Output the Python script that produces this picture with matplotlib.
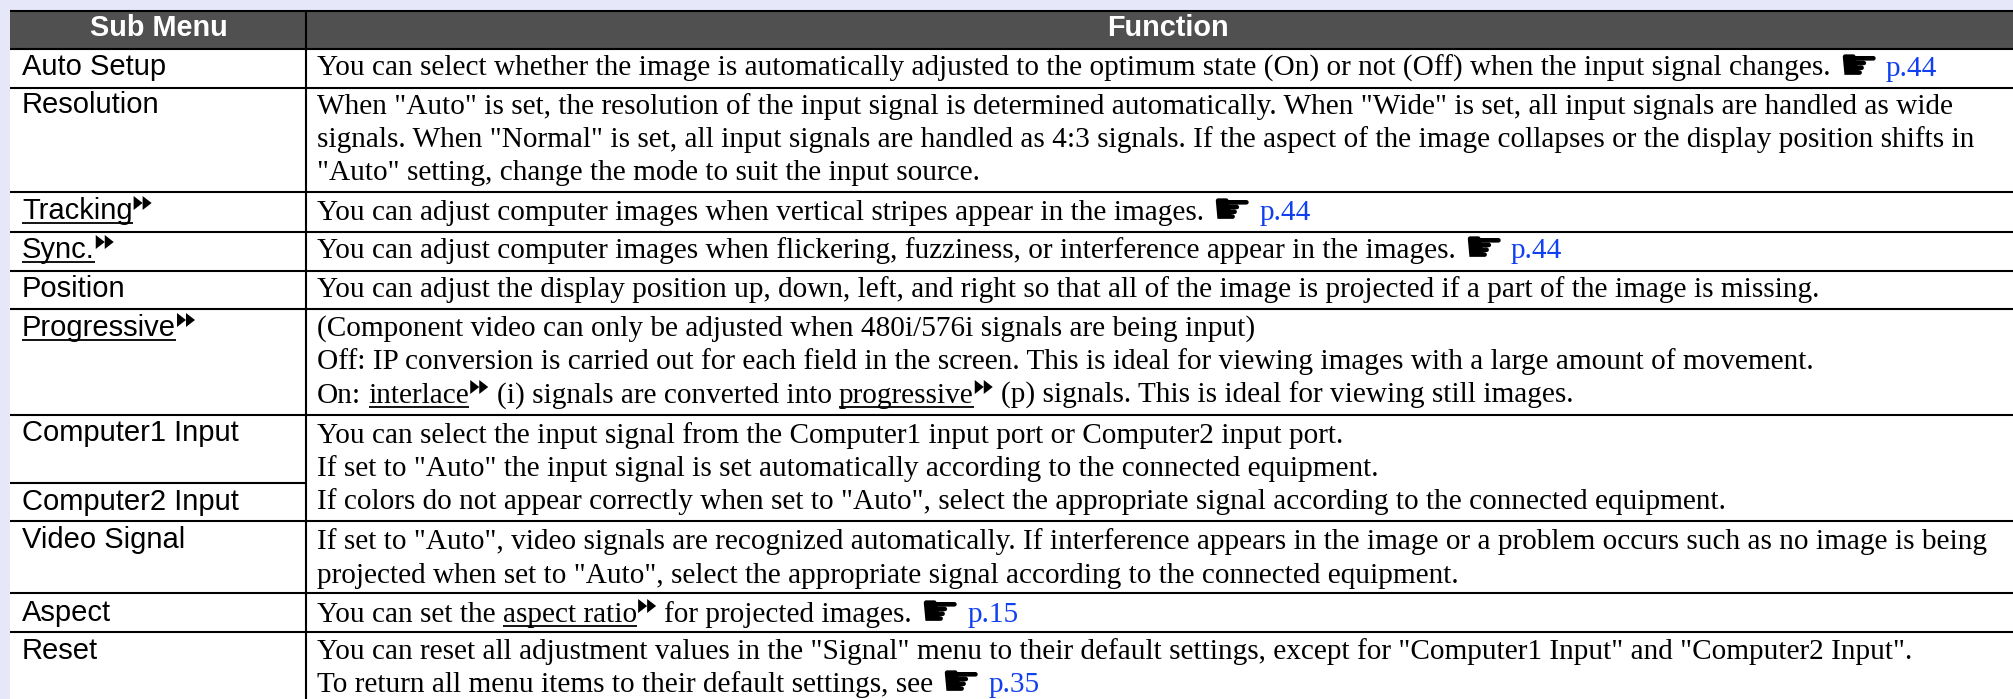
import matplotlib
matplotlib.use("Agg")
import matplotlib.pyplot as plt
from matplotlib.patches import Rectangle, Polygon

W, H = 2013, 699
BG = "#E6E8FA"
HEAD = "#505050"
BLUE = "#1040F0"
SERIF = "Liberation Serif"
SANS = "Liberation Sans"
SERIF_SIZE = 21.05
SANS_SIZE = 21.0
HEAD_SIZE = 20.8

headers = ["Sub Menu", "Function"]
row_lines = [49, 88, 192, 232, 271, 309, 415, 521, 593, 632]
left_only_lines = [483]

# Each run: (text, style); style: n normal, u underlined, t triangles, h hand, b blue
sub_menu = [
    (75, [("Auto Setup", "n")]),
    (113, [("Resolution", "n")]),
    (219, [("Tracking", "u"), ("", "t")]),
    (258, [("Sync.", "u"), ("", "t")]),
    (297, [("Position", "n")]),
    (336, [("Progressive", "u"), ("", "t")]),
    (441, [("Computer1 Input", "n")]),
    (510, [("Computer2 Input", "n")]),
    (548, [("Video Signal", "n")]),
    (621, [("Aspect", "n")]),
    (659, [("Reset", "n")]),
]
function_lines = [
    (76, [('You can select whether the image is automatically adjusted to the optimum state (On) or not (Off) when the input signal changes. ', "n"), ("☛", "h"), (" p.44", "b")]),
    (114, [('When "Auto" is set, the resolution of the input signal is determined automatically. When "Wide" is set, all input signals are handled as wide', "n")]),
    (147, [('signals. When "Normal" is set, all input signals are handled as 4:3 signals. If the aspect of the image collapses or the display position shifts in', "n")]),
    (180, [('"Auto" setting, change the mode to suit the input source.', "n")]),
    (220, [('You can adjust computer images when vertical stripes appear in the images. ', "n"), ("☛", "h"), (" p.44", "b")]),
    (258, [('You can adjust computer images when flickering, fuzziness, or interference appear in the images. ', "n"), ("☛", "h"), (" p.44", "b")]),
    (297, [('You can adjust the display position up, down, left, and right so that all of the image is projected if a part of the image is missing.', "n")]),
    (336, [('(Component video can only be adjusted when 480i/576i signals are being input)', "n")]),
    (369, [('Off: IP conversion is carried out for each field in the screen. This is ideal for viewing images with a large amount of movement.', "n")]),
    (403, [('On: ', "n"), ("interlace", "u"), ("", "t"), (" (i) signals are converted into ", "n"), ("progressive", "u"), ("", "t"), (" (p) signals. This is ideal for viewing still images.", "n")]),
    (443, [('You can select the input signal from the Computer1 input port or Computer2 input port.', "n")]),
    (476, [('If set to "Auto" the input signal is set automatically according to the connected equipment.', "n")]),
    (509, [('If colors do not appear correctly when set to "Auto", select the appropriate signal according to the connected equipment.', "n")]),
    (549, [('If set to "Auto", video signals are recognized automatically. If interference appears in the image or a problem occurs such as no image is being', "n")]),
    (583, [('projected when set to "Auto", select the appropriate signal according to the connected equipment.', "n")]),
    (622, [('You can set the ', "n"), ("aspect ratio", "u"), ("", "t"), (" for projected images. ", "n"), ("☛", "h"), (" p.15", "b")]),
    (659, [('You can reset all adjustment values in the "Signal" menu to their default settings, except for "Computer1 Input" and "Computer2 Input".', "n")]),
    (692, [('To return all menu items to their default settings, see ', "n"), ("☛", "h"), (" p.35", "b")]),
]

fig = plt.figure(figsize=(W / 100, H / 100), dpi=100, facecolor="white")
ax = fig.add_axes([0, 0, 1, 1])
ax.set_xlim(0, W)
ax.set_ylim(H, 0)
ax.axis("off")

ax.add_patch(Rectangle((0, 0), W, 11, fc=BG, ec="none"))
ax.add_patch(Rectangle((0, 0), 10, H, fc=BG, ec="none"))
ax.add_patch(Rectangle((10, 11), W - 10, 38, fc=HEAD, ec="none"))
ax.plot([10, W], [11, 11], color="black", lw=1.5, solid_capstyle="butt")
for y in row_lines:
    ax.plot([10, W], [y, y], color="black", lw=1.5, solid_capstyle="butt")
for y in left_only_lines:
    ax.plot([10, 306], [y, y], color="black", lw=1.5, solid_capstyle="butt")
ax.plot([306, 306], [11, H], color="black", lw=1.5, solid_capstyle="butt")

ax.text(158.5, 28, headers[0], ha="center", va="center", family=SANS, weight="bold", size=HEAD_SIZE, color="white")
ax.text(1168, 28, headers[1], ha="center", va="center", family=SANS, weight="bold", size=HEAD_SIZE, color="white")

fig.canvas.draw()
rend = fig.canvas.get_renderer()


def space_width(fam, size):
    probe = ax.text(0, 0, "a a", family=fam, size=size)
    p1 = probe.get_window_extent(rend).width
    probe.set_text("aa")
    p2 = probe.get_window_extent(rend).width
    probe.remove()
    return p1 - p2


def draw_runs(x0, y, runs, fam, size):
    x = x0
    sp = space_width(fam, size)
    for s, st in runs:
        if st == "t":
            for k in range(2):
                ax.add_patch(Polygon([(x + 1, y - 23), (x + 1, y - 9), (x + 10, y - 16)],
                                     closed=True, fc="black", ec="none"))
                x += 9
            x += 2
            continue
        if st == "h":
            t = ax.text(x, y + 4.5, s, family="DejaVu Sans", size=32.5, color="black", va="baseline")
            x = t.get_window_extent(rend).x1
            continue
        leading = len(s) - len(s.lstrip(" "))
        trailing = len(s) - len(s.rstrip(" "))
        col = BLUE if st == "b" else "black"
        x += leading * sp
        core = s.strip(" ")
        t = ax.text(x, y, core, family=fam, size=size, color=col, va="baseline")
        e = t.get_window_extent(rend)
        if st == "u":
            ax.plot([x, e.x1], [y + 4, y + 4], color="black", lw=1.3, solid_capstyle="butt")
        x = e.x1 + trailing * sp


for y, runs in sub_menu:
    draw_runs(22, y, runs, SANS, SANS_SIZE)
for y, runs in function_lines:
    draw_runs(317, y, runs, SERIF, SERIF_SIZE)

fig.savefig("out.png", dpi=100, facecolor="white")
